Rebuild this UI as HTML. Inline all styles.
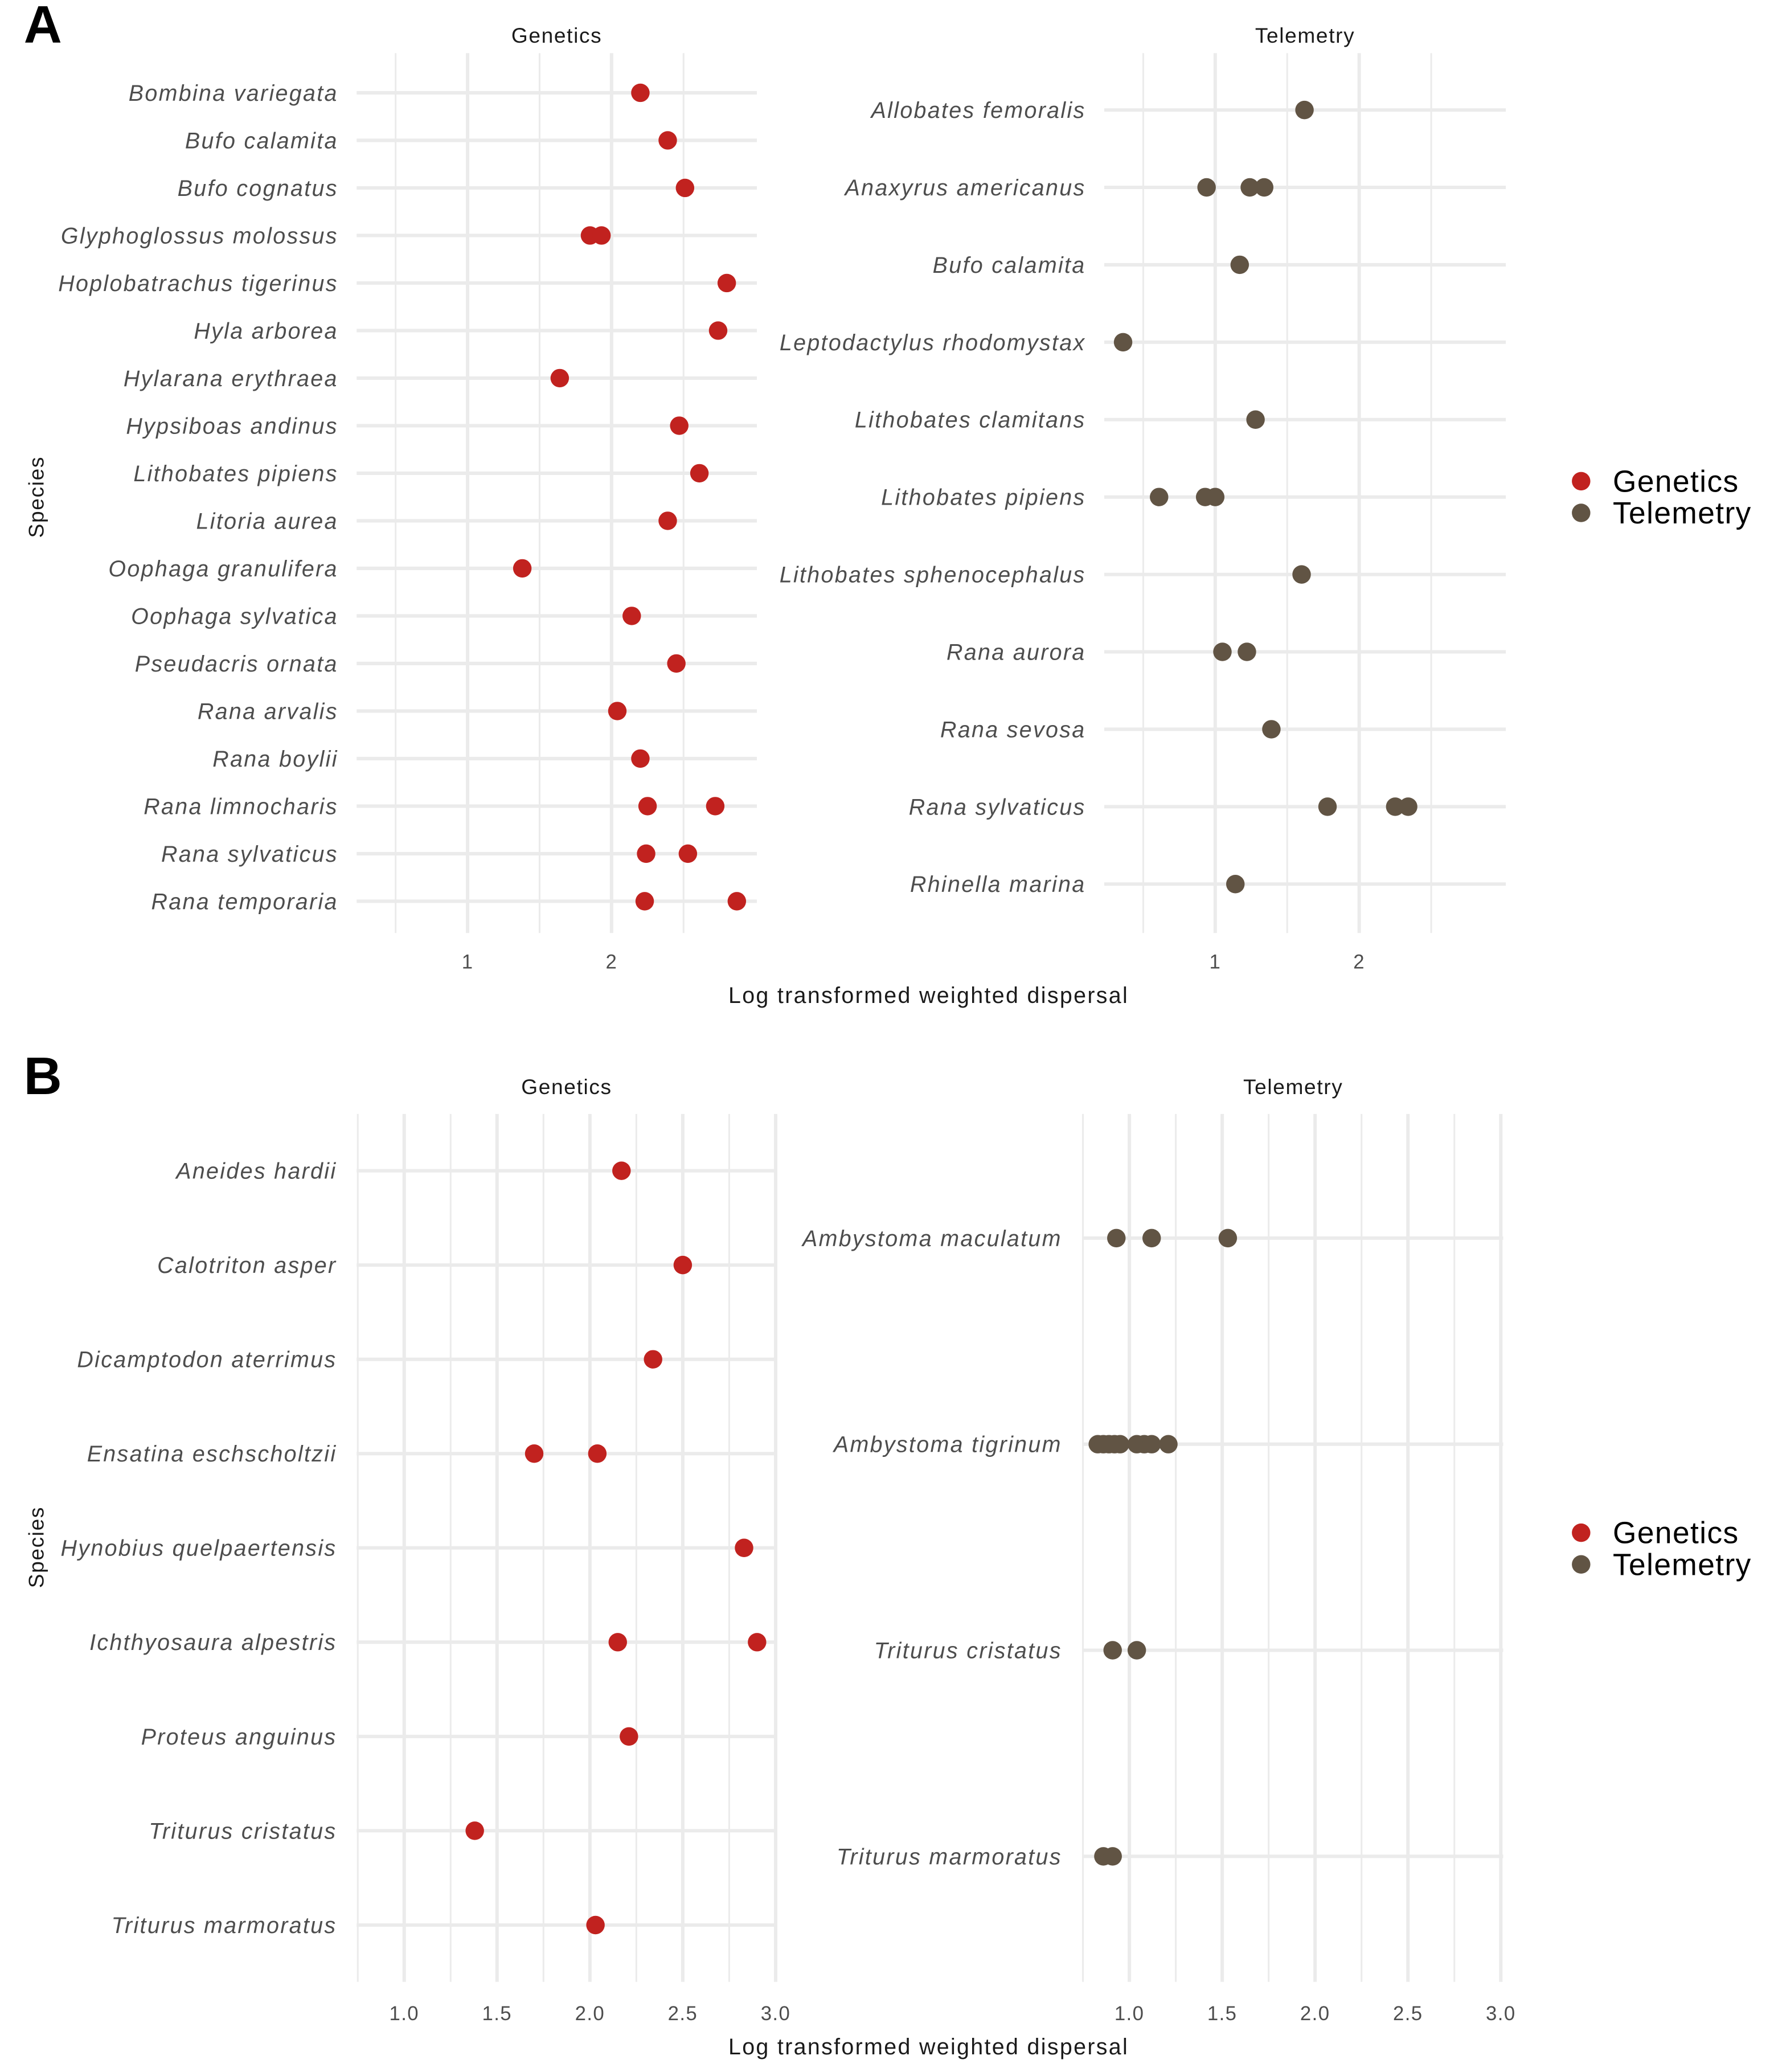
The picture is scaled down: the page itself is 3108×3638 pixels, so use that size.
<!DOCTYPE html>
<html><head><meta charset="utf-8"><style>
html,body{margin:0;padding:0;background:#fff;}
svg{display:block;font-family:"Liberation Sans",sans-serif;}
</style></head><body>
<svg id="fig" width="3108" height="3638" viewBox="0 0 1340 1568" xmlns="http://www.w3.org/2000/svg"></svg>
<script>
// Panel A genetics
const aGenSpecies=["Bombina variegata","Bufo calamita","Bufo cognatus","Glyphoglossus molossus","Hoplobatrachus tigerinus","Hyla arborea","Hylarana erythraea","Hypsiboas andinus","Lithobates pipiens","Litoria aurea","Oophaga granulifera","Oophaga sylvatica","Pseudacris ornata","Rana arvalis","Rana boylii","Rana limnocharis","Rana sylvaticus","Rana temporaria"];
const aGenValues=[[2.20],[2.39],[2.51],[1.85,1.93],[2.80],[2.74],[1.64],[2.47],[2.61],[2.39],[1.38],[2.14],[2.45],[2.04],[2.20],[2.25,2.72],[2.24,2.53],[2.23,2.87]];
const aTelSpecies=["Allobates femoralis","Anaxyrus americanus","Bufo calamita","Leptodactylus rhodomystax","Lithobates clamitans","Lithobates pipiens","Lithobates sphenocephalus","Rana aurora","Rana sevosa","Rana sylvaticus","Rhinella marina"];
const aTelValues=[[1.62],[0.94,1.24,1.34],[1.17],[0.36],[1.28],[0.61,0.93,1.00],[1.60],[1.05,1.22],[1.39],[1.78,2.25,2.34],[1.14]];
const aTicks=[1,2];
const aTickLabels=["1","2"];
// Panel B
const bGenSpecies=["Aneides hardii","Calotriton asper","Dicamptodon aterrimus","Ensatina eschscholtzii","Hynobius quelpaertensis","Ichthyosaura alpestris","Proteus anguinus","Triturus cristatus","Triturus marmoratus"];
const bGenValues=[[2.17],[2.50],[2.34],[1.70,2.04],[2.83],[2.15,2.90],[2.21],[1.38],[2.03]];
const bTelSpecies=["Ambystoma maculatum","Ambystoma tigrinum","Triturus cristatus","Triturus marmoratus"];
const bTelValues=[[0.93,1.12,1.53],[0.83,0.86,0.89,0.92,0.95,1.04,1.08,1.12,1.21],[0.91,1.04],[0.86,0.91]];
const bTicks=[1.0,1.5,2.0,2.5,3.0];
const bTickLabels=["1.0","1.5","2.0","2.5","3.0"];

const NS="http://www.w3.org/2000/svg";
const svg=document.getElementById('fig');
function mk(tag,attrs,parent,text){const e=document.createElementNS(NS,tag);for(const k in attrs)e.setAttribute(k,attrs[k]);if(text!==undefined)e.textContent=text;(parent||svg).appendChild(e);return e;}

function panel(cfg){
  const g=mk('g',{});
  
  
  const xs=v=>cfg.x0px+(v-cfg.x0v)*cfg.pxPerUnit;
  const n=cfg.species.length;
  const ys=i=>cfg.yTop+i*(cfg.yBot-cfg.yTop)/(n-1);
  for(const m of cfg.minor){const l=mk('line',{x1:xs(m),x2:xs(m),y1:cfg.top,y2:cfg.bottom,stroke:'#ebebeb','stroke-width':1.3},g);
    }
  for(let i=0;i<n;i++){const l=mk('line',{x1:cfg.left,x2:cfg.right,y1:ys(i),y2:ys(i),stroke:'#ebebeb','stroke-width':2.6},g);
    }
  cfg.ticks.forEach((t,i)=>{
    const l=mk('line',{x1:xs(t),x2:xs(t),y1:cfg.top,y2:cfg.bottom,stroke:'#ebebeb','stroke-width':2.6},g);
    
    const tx=mk('text',{x:xs(t),y:cfg.tickY,'text-anchor':'middle','font-size':15,'letter-spacing':0.6,fill:'#4d4d4d'},g,cfg.tickLabels[i]);
    
  });
  cfg.species.forEach((s,i)=>{
    const tx=mk('text',{x:cfg.labelX,y:ys(i)+6,'text-anchor':'end','font-size':17,'letter-spacing':1,'font-style':'italic',fill:'#4d4d4d'},g,s);
    
    cfg.values[i].forEach(v=>{
      const c=mk('circle',{cx:xs(v),cy:ys(i),r:7,fill:cfg.color},g);
      
    });
  });
  const st=mk('text',{x:(cfg.left+cfg.right)/2,y:cfg.stripY,'text-anchor':'middle','font-size':16,'letter-spacing':0.7,fill:'#1a1a1a'},g,cfg.strip);
  
}
const RED='#c1221f', BRN='#615444';
panel({name:'panel-a-genetics',species:aGenSpecies,values:aGenValues,color:RED,x0px:354,x0v:1,pxPerUnit:109,left:270,right:573,top:40,bottom:706,yTop:70,yBot:682,minor:[0.5,1.5,2.5],ticks:aTicks,tickLabels:aTickLabels,tickY:733,labelX:256,strip:'Genetics',stripY:32});
panel({name:'panel-a-telemetry',species:aTelSpecies,values:aTelValues,color:BRN,x0px:920,x0v:1,pxPerUnit:109,left:836,right:1140,top:40,bottom:706,yTop:83,yBot:669,minor:[0.5,1.5,2.5],ticks:aTicks,tickLabels:aTickLabels,tickY:733,labelX:822,strip:'Telemetry',stripY:32});
panel({name:'panel-b-genetics',species:bGenSpecies,values:bGenValues,color:RED,x0px:306,x0v:1,pxPerUnit:140.6,left:270,right:588,top:843,bottom:1500,yTop:886,yBot:1457,minor:[0.75,1.25,1.75,2.25,2.75],ticks:bTicks,tickLabels:bTickLabels,tickY:1529,labelX:255,strip:'Genetics',stripY:828});
panel({name:'panel-b-telemetry',species:bTelSpecies,values:bTelValues,color:BRN,x0px:855,x0v:1,pxPerUnit:140.6,left:820,right:1138,top:843,bottom:1500,yTop:937,yBot:1405,minor:[0.75,1.25,1.75,2.25,2.75],ticks:bTicks,tickLabels:bTickLabels,tickY:1529,labelX:804,strip:'Telemetry',stripY:828});

function txt(attrs,s,name){const t=mk('text',attrs,svg,s);return t;}
txt({x:18,y:32,'font-size':40,'font-weight':'bold',fill:'#000'},'A','panel-a-letter');
txt({x:18,y:828,'font-size':40,'font-weight':'bold',fill:'#000'},'B','panel-b-letter');
txt({x:703,y:759,'text-anchor':'middle','font-size':17,'letter-spacing':1,fill:'#1a1a1a'},'Log transformed weighted dispersal','x-axis-title-a');
txt({x:703,y:1555,'text-anchor':'middle','font-size':17,'letter-spacing':1,fill:'#1a1a1a'},'Log transformed weighted dispersal','x-axis-title-b');
txt({x:33,y:376,'text-anchor':'middle','font-size':16,'letter-spacing':0.7,fill:'#1a1a1a',transform:'rotate(-90 33 376)'},'Species','y-axis-title-a');
txt({x:33,y:1171,'text-anchor':'middle','font-size':16,'letter-spacing':0.7,fill:'#1a1a1a',transform:'rotate(-90 33 1171)'},'Species','y-axis-title-b');
function legend(y0,nm){
  [['Genetics',RED],['Telemetry',BRN]].forEach((d,i)=>{
    const c=mk('circle',{cx:1197,cy:y0+i*24,r:7,fill:d[1]});
    
    txt({x:1221,y:y0+i*24+8,'font-size':23,'letter-spacing':0.6,fill:'#000'},d[0],nm+'-entry-'+d[0].toLowerCase());
  });
}
legend(364,'legend-a');
legend(1160,'legend-b');
</script>
</body></html>
